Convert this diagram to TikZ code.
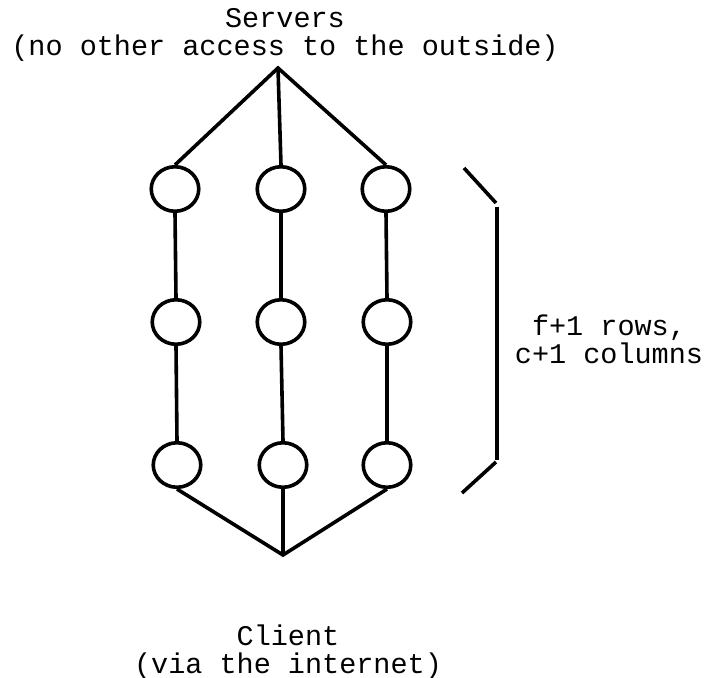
\documentclass[tikz,border=0pt]{standalone}
\usepackage{fontspec}
\usetikzlibrary{shapes.geometric}
\setmonofont{Liberation Mono}
\begin{document}
\begin{tikzpicture}[x=1pt,y=-1pt,
  srv/.style={ellipse,draw,line width=3.6pt,minimum width=47.5pt,minimum height=44.5pt,inner sep=0pt},
  link/.style={line width=3.6pt},
  lbl/.style={font=\ttfamily\fontsize{28.5}{28}\selectfont,align=center,anchor=base,inner sep=0pt}]
\useasboundingbox (0,0) rectangle (705,678);
% labels (anchored on the baseline of their last line)
\node[lbl] (servers) at (285,55) {Servers\\(no other access to the outside)};
\node[lbl] (client) at (288,673) {Client\\(via the internet)};
\node[lbl] (size) at (609,363) {f+1 rows,\\c+1 columns};
% server grid
\node[srv] (a1) at (175,189) {};
\node[srv] (b1) at (281,189) {};
\node[srv] (c1) at (386,189) {};
\node[srv] (a2) at (176,322) {};
\node[srv] (b2) at (281,322) {};
\node[srv] (c2) at (387,322) {};
\node[srv] (a3) at (177,465) {};
\node[srv] (b3) at (283,465) {};
\node[srv] (c3) at (387,465) {};
% fan-in points
\coordinate (top) at (278,68);
\coordinate (bot) at (283,555);
\draw[link] (a1.north) -- (top) -- (c1.north);
\draw[link] (top) -- (b1.north);
\draw[link] (a1.south) -- (a2.north);
\draw[link] (b1.south) -- (b2.north);
\draw[link] (c1.south) -- (c2.north);
\draw[link] (a2.south) -- (a3.north);
\draw[link] (b2.south) -- (b3.north);
\draw[link] (c2.south) -- (c3.north);
\draw[link] (a3.south) -- (bot) -- (c3.south);
\draw[link] (b3.south) -- (bot);
% bracket
\coordinate (k1) at (464,168);
\coordinate (k2) at (496,203);
\coordinate (k3) at (497,207);
\coordinate (k4) at (497,460);
\coordinate (k5) at (496,462);
\coordinate (k6) at (462,493);
\draw[link] (k1) -- (k2);
\draw[link] (k3) -- (k4);
\draw[link] (k5) -- (k6);
\end{tikzpicture}
\end{document}
